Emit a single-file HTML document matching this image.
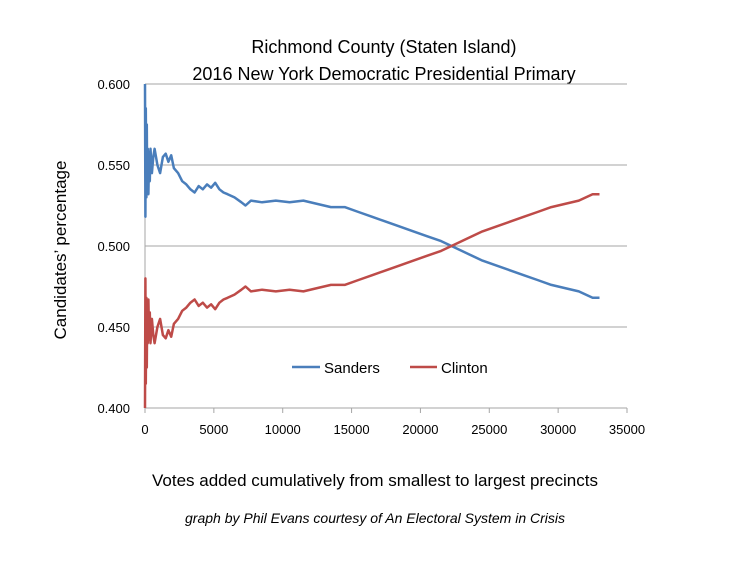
<!DOCTYPE html>
<html><head><meta charset="utf-8"><style>
body{margin:0;background:#fff;}
svg text{font-family:"Liberation Sans",sans-serif;fill:#000;}
</style></head><body>
<svg width="750" height="563" viewBox="0 0 750 563">
<text x="384" y="53" font-size="18" text-anchor="middle">Richmond County (Staten Island)</text>
<text x="384" y="80" font-size="18" text-anchor="middle">2016 New York Democratic Presidential Primary</text>
<g id="grid"></g><g id="axes"></g><g id="series"></g>
<text transform="translate(66,250) rotate(-90)" font-size="17" text-anchor="middle">Candidates’ percentage</text>
<text x="375" y="486" font-size="17" text-anchor="middle">Votes added cumulatively from smallest to largest precincts</text>
<text x="375" y="523" font-size="14" font-style="italic" text-anchor="middle">graph by Phil Evans courtesy of An Electoral System in Crisis</text>
<g>
<line x1="292" y1="367" x2="320" y2="367" stroke="#4a7ebb" stroke-width="2.5"/>
<text x="324" y="373" font-size="15">Sanders</text>
<line x1="410" y1="367" x2="437" y2="367" stroke="#be4b48" stroke-width="2.5"/>
<text x="441" y="373" font-size="15">Clinton</text>
</g>
</svg>
<script>
const xTicks=[0,5000,10000,15000,20000,25000,30000,35000];
const yTicks=[0.400,0.450,0.500,0.550,0.600];
const votes=[0,30,60,100,130,160,200,250,300,350,400,500,600,700,900,1100,1300,1500,1700,1900,2100,2400,2700,3000,3300,3600,3900,4200,4500,4800,5100,5400,5700,6000,6500,7000,7300,7700,8500,9500,10500,11500,12500,13500,14500,15500,16500,17500,18500,19500,20500,21500,22500,23500,24500,25500,26500,27500,28500,29500,30500,31500,32500,33000];
const sanders=[0.600,0.518,0.585,0.530,0.575,0.535,0.560,0.532,0.558,0.540,0.560,0.545,0.555,0.560,0.550,0.545,0.555,0.557,0.552,0.556,0.548,0.545,0.540,0.538,0.535,0.533,0.537,0.535,0.538,0.536,0.539,0.535,0.533,0.532,0.530,0.527,0.525,0.528,0.527,0.528,0.527,0.528,0.526,0.524,0.524,0.521,0.518,0.515,0.512,0.509,0.506,0.503,0.499,0.495,0.491,0.488,0.485,0.482,0.479,0.476,0.474,0.472,0.468,0.468];
const clinton=[0.400,0.480,0.415,0.468,0.425,0.463,0.440,0.467,0.442,0.459,0.440,0.455,0.445,0.440,0.450,0.455,0.445,0.443,0.448,0.444,0.452,0.455,0.460,0.462,0.465,0.467,0.463,0.465,0.462,0.464,0.461,0.465,0.467,0.468,0.470,0.473,0.475,0.472,0.473,0.472,0.473,0.472,0.474,0.476,0.476,0.479,0.482,0.485,0.488,0.491,0.494,0.497,0.501,0.505,0.509,0.512,0.515,0.518,0.521,0.524,0.526,0.528,0.532,0.532];
const NS='http://www.w3.org/2000/svg';
const X0=145,X1=627,Y0=408,Y1=84;
const xs=v=>X0+v/35000*(X1-X0);
const ys=v=>Y0-(v-0.4)/0.2*(Y0-Y1);
function mk(t,a,p){const e=document.createElementNS(NS,t);for(const k in a)e.setAttribute(k,a[k]);document.getElementById(p).appendChild(e);return e;}
yTicks.forEach(t=>{
 if(t>0.4){const g=mk('line',{x1:X0,x2:X1,y1:ys(t),y2:ys(t),stroke:'#a6a6a6','stroke-width':1},'grid');
 
 }
 const l=mk('text',{x:130,y:ys(t)+5,'font-size':13,'text-anchor':'end'},'axes');l.textContent=t.toFixed(3);
 
 
});
const ax=mk('line',{x1:X0,x2:X1,y1:Y0,y2:Y0,stroke:'#a6a6a6','stroke-width':1},'axes');


const ay=mk('line',{x1:X0,x2:X0,y1:Y1,y2:Y0,stroke:'#a6a6a6','stroke-width':1},'axes');


xTicks.forEach(t=>{
 const tk=mk('line',{x1:xs(t),x2:xs(t),y1:Y0,y2:Y0+5,stroke:'#a6a6a6'},'axes');
 
 
 const l=mk('text',{x:xs(t),y:Y0+26,'font-size':13,'text-anchor':'middle'},'axes');l.textContent=t;
 
 
});
function line(vals,color,name){
 const d=vals.map((v,i)=>(i?'L':'M')+xs(votes[i]).toFixed(1)+','+ys(v).toFixed(1)).join('');
 const p=mk('path',{d:d,fill:'none',stroke:color,'stroke-width':2.5,'stroke-linejoin':'round'},'series');
 
 
}
line(sanders,'#4a7ebb','sanders-line');
line(clinton,'#be4b48','clinton-line');
</script>
</body></html>
